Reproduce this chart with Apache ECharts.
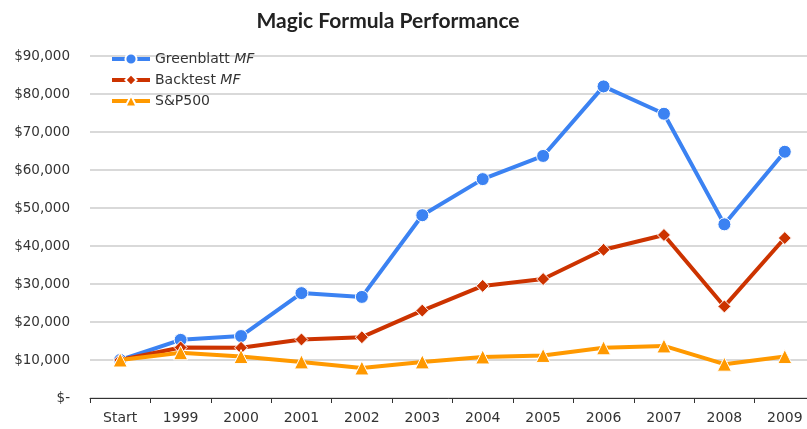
<!DOCTYPE html>
<html>
<head>
<meta charset="utf-8">
<script src="https://cdn.jsdelivr.net/npm/echarts@6/dist/echarts.min.js"></script>
<style>
  html, body { margin: 0; padding: 0; background: #fff; }
  #chart { width: 807px; height: 429px; }
</style>
</head>
<body>
<div id="chart"></div>
<script>
const categories = ['Start', '1999', '2000', '2001', '2002', '2003', '2004', '2005', '2006', '2007', '2008', '2009']
const greenblatt = [10000, 15300, 16300, 27600, 26600, 48100, 57600, 63700, 82000, 74800, 45700, 64800]
const backtest = [10000, 13300, 13200, 15400, 16000, 23000, 29500, 31300, 39000, 42900, 24100, 42100]
const sp500 = [10000, 11900, 10900, 9500, 7900, 9500, 10800, 11200, 13200, 13700, 8900, 10900]

const chart = echarts.init(document.getElementById('chart'))

chart.setOption({
  animation: false,
  title: {
    text: 'Magic Formula Performance',
    left: 383,
    textAlign: 'center',
    top: 6,
    textStyle: { fontFamily: 'Lato', fontWeight: 'bold', fontSize: 21, color: '#222' }
  },
  legend: {
    orient: 'vertical',
    left: 105,
    top: 47,
    itemGap: 7,
    itemWidth: 38,
    itemHeight: 14,
    data: ['Greenblatt MF', 'Backtest MF', 'S&P500'],
    lineStyle: { width: 4 },
    formatter: function (name) {
      if (name.endsWith(' MF')) return '{a|' + name.slice(0, -3) + ' }{b|MF}'
      return '{a|' + name + '}'
    },
    textStyle: {
      rich: {
        a: { fontFamily: 'DejaVu Sans', fontSize: 14, color: '#333' },
        b: { fontFamily: 'DejaVu Sans', fontSize: 14, fontStyle: 'italic', color: '#333' }
      }
    }
  },
  grid: { left: 90, width: 725, top: 56, bottom: 31, outerBoundsMode: 'none' },
  xAxis: {
    type: 'category',
    data: categories,
    boundaryGap: true,
    axisLine: { lineStyle: { color: '#333', width: 1 } },
    axisTick: { show: true, length: 5, lineStyle: { color: '#333' } },
    axisLabel: { fontFamily: 'DejaVu Sans', fontSize: 14, color: '#333', margin: 13 }
  },
  yAxis: {
    type: 'value',
    min: 0,
    max: 90000,
    interval: 10000,
    axisLine: { show: false },
    axisTick: { show: false },
    splitLine: { lineStyle: { color: '#cccccc', width: 1.5 } },
    axisLabel: {
      fontFamily: 'DejaVu Sans',
      fontSize: 13.5,
      color: '#333',
      margin: 20,
      formatter: function (v) {
        if (v === 0) return '$-'
        return '$' + v.toLocaleString('en-US')
      }
    }
  },
  series: [
    {
      name: 'Greenblatt MF',
      type: 'line',
      data: greenblatt,
      symbol: 'circle',
      symbolSize: 13,
      lineStyle: { color: '#3b82f2', width: 4 },
      itemStyle: { color: '#3b82f2', borderColor: '#ffffff', borderWidth: 1 },
      z: 3
    },
    {
      name: 'Backtest MF',
      type: 'line',
      data: backtest,
      symbol: 'diamond',
      symbolSize: 13,
      lineStyle: { color: '#cc3300', width: 4 },
      itemStyle: { color: '#cc3300', borderColor: '#ffffff', borderWidth: 1 },
      z: 4
    },
    {
      name: 'S&P500',
      type: 'line',
      data: sp500,
      symbol: 'triangle',
      symbolSize: 14,
      lineStyle: { color: '#ff9900', width: 4 },
      itemStyle: { color: '#ff9900', borderColor: '#ffffff', borderWidth: 1 },
      z: 5
    }
  ]
})
</script>
</body>
</html>
